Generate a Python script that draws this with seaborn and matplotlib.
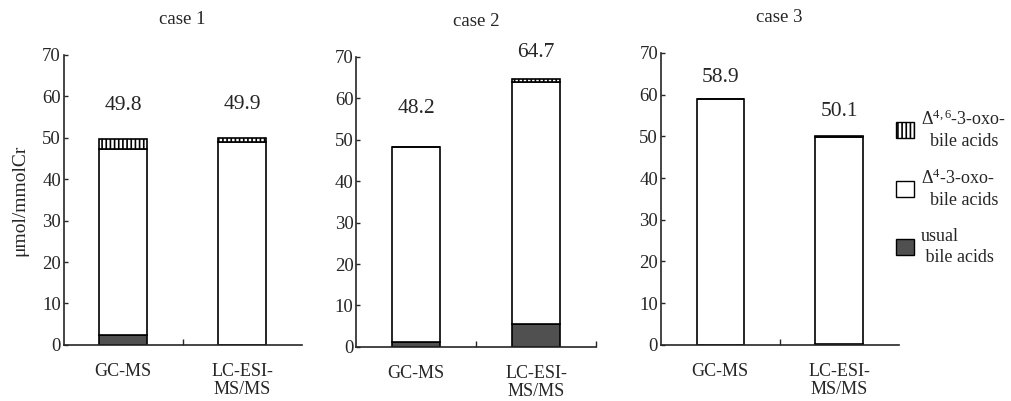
import matplotlib
matplotlib.use("Agg")
import matplotlib.pyplot as plt
import matplotlib.patches as mpatches
import pandas as pd
import seaborn as sns

# data (umol/mmolCr)
cases = ["case 1", "case 2", "case 3"]
methods = ["GC-MS", "LC-ESI-\nMS/MS"]
totals = [[49.8, 49.9], [48.2, 64.7], [58.9, 50.1]]
usual = [[2.5, 0.0], [1.2, 5.5], [0.0, 0.3]]
delta46 = [[2.5, 0.9], [0.0, 0.7], [0.0, 0.3]]

legend_labels = [
    "$\\Delta^{4,6}$-3-oxo-\n  bile acids",
    "$\\Delta^{4}$-3-oxo-\n  bile acids",
    "usual\n bile acids",
]

# layout / style
AXES_POS = [
    [0.063, 0.140, 0.235, 0.723],
    [0.352, 0.135, 0.237, 0.723],
    [0.653, 0.140, 0.235, 0.728],
]
LABEL_OFFSETS = [[8.1, 8.1], [9.4, 6.3], [5.1, 5.9]]
DARK = "#505050"
BAR_WIDTH = 0.4

sns.set_style("ticks")
plt.rcParams["font.family"] = ["Liberation Serif", "DejaVu Serif"]
plt.rcParams["mathtext.fontset"] = "custom"
plt.rcParams["mathtext.rm"] = "Liberation Serif"
plt.rcParams["mathtext.it"] = "Liberation Serif"
plt.rcParams["hatch.linewidth"] = 1.2

fig = plt.figure(figsize=(10.12, 4.01), dpi=100)

for i, case in enumerate(cases):
    ax = fig.add_axes(AXES_POS[i])
    df = pd.DataFrame({
        "method": methods,
        "usual": usual[i],
        "d46": delta46[i],
        "total": totals[i],
    })
    df["d4"] = df["total"] - df["usual"] - df["d46"]

    bar_kw = dict(x="method", ax=ax, width=BAR_WIDTH, edgecolor="black",
                  linewidth=1.2, errorbar=None)
    sns.barplot(data=df, y="usual", color=DARK, **bar_kw)
    sns.barplot(data=df, y="d4", bottom=df["usual"], color="white", **bar_kw)
    sns.barplot(data=df, y="d46", bottom=df["usual"] + df["d4"],
                color="white", hatch="||||", **bar_kw)

    for j, tot in enumerate(df["total"]):
        ax.text(j, tot + LABEL_OFFSETS[i][j], f"{tot:.1f}", ha="center",
                va="center", fontsize=15.5, clip_on=False)

    ax.set_xlim(-0.5, 1.5)
    ax.set_ylim(0, 70)
    ax.set_yticks(range(0, 71, 10))
    ax.tick_params(axis="y", direction="in", length=3, labelsize=13.5,
                   width=1, pad=2)
    ax.tick_params(axis="x", length=0, labelsize=13, pad=13)
    ax.set_xticks([0, 1])
    ax.set_xticklabels(methods, linespacing=1.1)
    ax.set_xticks([0.5, 1.5] if i == 1 else [0.5], minor=True)
    ax.tick_params(axis="x", which="minor", direction="in", length=4, width=1)
    ax.set_xlabel("")
    ax.set_ylabel("")
    ax.set_title(case, fontsize=13.5, pad=22)
    for side in ["top", "right"]:
        ax.spines[side].set_visible(False)
    for side in ["left", "bottom"]:
        ax.spines[side].set_linewidth(1.2)

fig.text(0.020, 0.50, "\u03bcmol/mmolCr", rotation=90, ha="center",
         va="center", fontsize=14)

handles = [
    mpatches.Patch(facecolor="white", edgecolor="black", hatch="||||"),
    mpatches.Patch(facecolor="white", edgecolor="black"),
    mpatches.Patch(facecolor=DARK, edgecolor="black"),
]
leg = fig.legend(handles, legend_labels, loc="upper left",
                 bbox_to_anchor=(0.885, 0.727), frameon=False, fontsize=13,
                 handlelength=1.0, handleheight=1.0, handletextpad=0.4,
                 labelspacing=1.05, borderpad=0.0, borderaxespad=0.0)
for t in leg.get_texts():
    t.set_linespacing(1.3)

fig.savefig("out.png", dpi=100)
